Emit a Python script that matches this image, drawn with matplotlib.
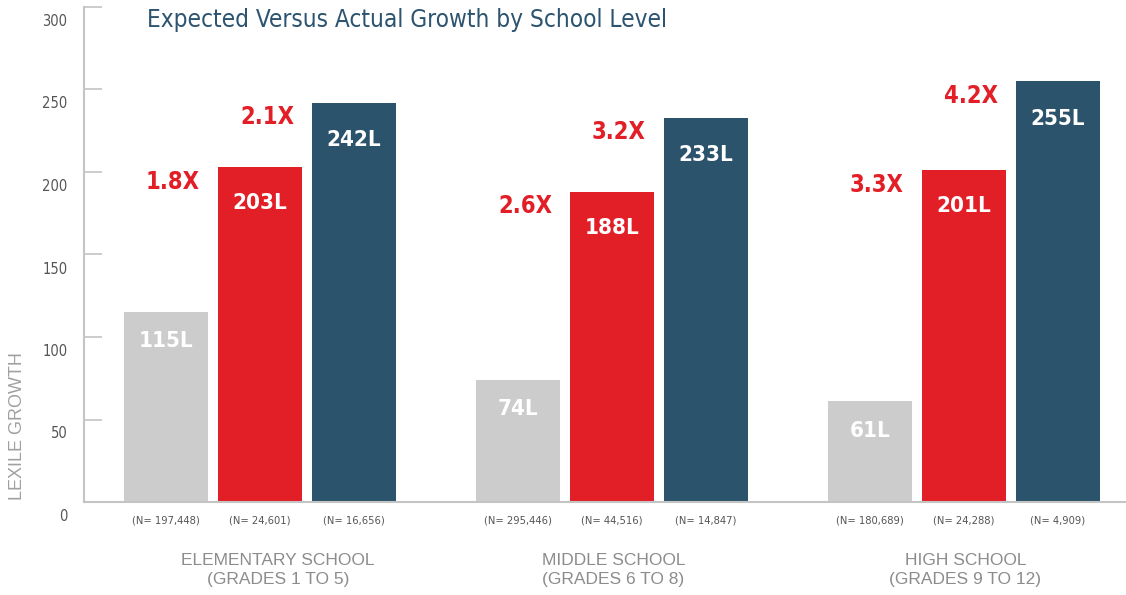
import matplotlib
matplotlib.use('Agg')
import matplotlib.pyplot as plt
import matplotlib.transforms as mtransforms
import numpy as np

# Data
groups = ['ELEMENTARY SCHOOL\n(GRADES 1 TO 5)', 'MIDDLE SCHOOL\n(GRADES 6 TO 8)', 'HIGH SCHOOL\n(GRADES 9 TO 12)']
expected = [115, 74, 61]
actual_1 = [203, 188, 201]
actual_2 = [242, 233, 255]
n_expected = ['(N= 197,448)', '(N= 295,446)', '(N= 180,689)']
n_actual_1 = ['(N= 24,601)', '(N= 44,516)', '(N= 24,288)']
n_actual_2 = ['(N= 16,656)', '(N= 14,847)', '(N= 4,909)']
ratio_1 = ['1.8X', '2.6X', '3.3X']
ratio_2 = ['2.1X', '3.2X', '4.2X']

GRAY = '#cccccc'
RED = '#e21e26'
BLUE = '#2b536b'
TITLE_C = '#2c5470'

plt.rcParams['font.family'] = ['DejaVu Sans']
plt.rcParams['font.stretch'] = 'condensed'

fig = plt.figure(figsize=(11.26, 5.95), dpi=100)
ax = fig.add_axes([84 / 1126, 1 - 502 / 595, 1 - 84 / 1126, 495 / 595])

x = np.arange(len(groups))
w = 84 / 352
step = 94 / 352
series = [expected, actual_1, actual_2]
colors = [GRAY, RED, BLUE]
ns = [n_expected, n_actual_1, n_actual_2]
label_drop = [-21, -26, -27]  # points below bar top
group_dx = [13, 1, 1]         # the first group label sits a bit right in the original

for k, (vals, col, nl) in enumerate(zip(series, colors, ns)):
    xs = x + (k - 1) * step
    ax.bar(xs, vals, width=w, color=col, zorder=2)
    for xi, v, n in zip(xs, vals, nl):
        ax.annotate(f'{v}L', (xi, v), xytext=(0, label_drop[k]), textcoords='offset points',
                    ha='center', va='center', color='white', fontsize=16, fontweight='bold')
        ax.annotate(n, (xi, 0), xytext=(0, -13.5), textcoords='offset points',
                    ha='center', va='center', color='#555555', fontsize=8,
                    annotation_clip=False)

# ratio labels sit just below the level of the next bar
for i in range(len(groups)):
    ax.annotate(ratio_1[i], (x[i] - step, actual_1[i]), xytext=(5, -10.5), textcoords='offset points',
                ha='center', va='center', color=RED, fontsize=17, fontweight='bold')
    ax.annotate(ratio_2[i], (x[i], actual_2[i]), xytext=(5, -10.5), textcoords='offset points',
                ha='center', va='center', color=RED, fontsize=17, fontweight='bold')
    ax.annotate(groups[i], (x[i], 0), xytext=(group_dx[i], -49), textcoords='offset points',
                ha='center', va='center', color='#8c8c8c', fontsize=12.5,
                family=['Liberation Sans', 'DejaVu Sans'], stretch='normal', linespacing=1.3,
                annotation_clip=False)

ax.set_xlim(-0.5, (1126 - 260) / 352)
ax.set_ylim(0, 300)
ax.set_yticks(range(0, 301, 50))
for s in ['top', 'right']:
    ax.spines[s].set_visible(False)
for s in ['left', 'bottom']:
    ax.spines[s].set_color('#c4c4c4')
    ax.spines[s].set_linewidth(1.5)
ax.set_xticks([])
ax.tick_params(axis='y', direction='in', length=13, width=1.2, color='#c4c4c4',
               labelsize=10.5, labelcolor='#555555', pad=12)
offset = mtransforms.ScaledTranslation(0, -13 / 100, fig.dpi_scale_trans)
for lab in ax.get_yticklabels():
    lab.set_transform(lab.get_transform() + offset)

fig.text(18 / 1126, 1 - 426 / 595, 'LEXILE GROWTH', rotation=90, ha='center', va='center',
         color='#a0a0a0', fontsize=13, family=['Liberation Sans', 'DejaVu Sans'], stretch='normal')
fig.text(147 / 1126, 1 - 20 / 595, 'Expected Versus Actual Growth by School Level',
         ha='left', va='center', color=TITLE_C, fontsize=17.5)

fig.savefig('out.png', dpi=100)
